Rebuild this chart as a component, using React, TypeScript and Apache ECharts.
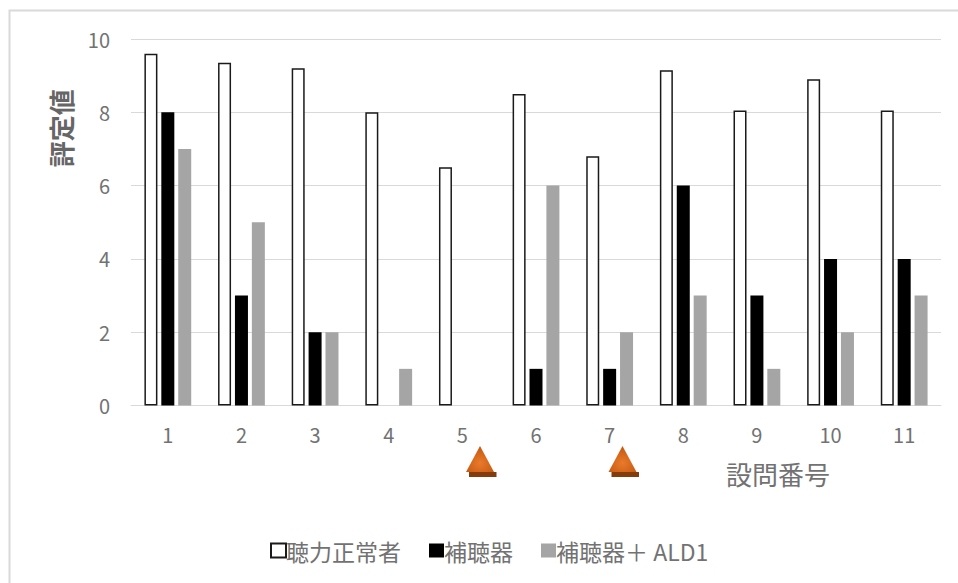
import React, { useEffect, useRef } from "react";
import * as echarts from "echarts";

const categories = ["1", "2", "3", "4", "5", "6", "7", "8", "9", "10", "11"];
const normalHearing = [9.6, 9.35, 9.2, 8, 6.5, 8.5, 6.8, 9.15, 8.05, 8.9, 8.05];
const hearingAid = [8, 3, 2, 0, 0, 1, 1, 6, 3, 4, 4];
const hearingAidAld = [7, 5, 2, 1, 0, 6, 2, 3, 1, 2, 3];

const FONT = '"Noto Sans CJK JP", "Noto Sans", sans-serif';
const TEXT = "#727272";

// Orange marker with a darker slab under its base
const marker = (apexX: number) => [
  {
    type: "polygon",
    shape: { points: [[apexX - 11, 472], [apexX + 16.5, 472], [apexX + 16.5, 477], [apexX - 11, 477]] },
    style: { fill: "#843c0c" },
  },
  {
    type: "polygon",
    shape: { points: [[apexX, 446], [apexX + 14, 472], [apexX - 14, 472]] },
    style: {
      fill: {
        type: "radial",
        x: 0.5,
        y: 0.65,
        r: 0.6,
        colorStops: [
          { offset: 0, color: "#ea7a2c" },
          { offset: 1, color: "#c55a11" },
        ],
      },
    },
  },
];

export default function App() {
  const ref = useRef<HTMLDivElement>(null);

  useEffect(() => {
    document.body.style.margin = "0";
    const chart = echarts.init(ref.current!, null, { renderer: "svg" });
    const bar = { type: "bar", barWidth: 13, barGap: "30%" };
    chart.setOption({
      animation: false,
      backgroundColor: "#ffffff",
      grid: { left: 131, right: 17, top: 39, bottom: 177.5, outerBoundsMode: "none", containLabel: false },
      xAxis: {
        type: "category",
        data: categories,
        axisTick: { show: false },
        axisLine: { lineStyle: { color: "#d9d9d9", width: 1 } },
        axisLabel: { color: TEXT, fontFamily: FONT, fontSize: 20, margin: 19 },
        name: "設問番号",
        nameLocation: "end",
        nameGap: -111,
        nameTextStyle: {
          color: TEXT,
          fontFamily: FONT,
          fontSize: 26,
          align: "right",
          verticalAlign: "top",
          padding: [55, 0, 0, 0],
        },
      },
      yAxis: {
        type: "value",
        min: 0,
        max: 10,
        interval: 2,
        splitLine: { lineStyle: { color: "#d9d9d9", width: 1 } },
        axisLine: { show: false },
        axisTick: { show: false },
        axisLabel: { color: TEXT, fontFamily: FONT, fontSize: 20, margin: 21 },
        name: "評定値",
        nameLocation: "middle",
        nameGap: 58,
        nameRotate: 90,
        nameTextStyle: {
          color: "#666666",
          fontFamily: FONT,
          fontSize: 26,
          fontWeight: "bold",
          padding: [0, 0, 0, 188],
        },
      },
      legend: {
        left: 265,
        top: 534,
        itemWidth: 15,
        itemHeight: 14,
        itemGap: 28,
        icon: "rect",
        textStyle: { color: TEXT, fontFamily: FONT, fontSize: 23, padding: [0, 0, 0, -5] },
        data: ["聴力正常者", "補聴器", "補聴器＋ ALD1"],
      },
      series: [
        {
          ...bar,
          name: "聴力正常者",
          data: normalHearing,
          itemStyle: { color: "#ffffff", borderColor: "#1a1a1a", borderWidth: 1.5 },
        },
        { ...bar, name: "補聴器", data: hearingAid, itemStyle: { color: "#000000" } },
        { ...bar, name: "補聴器＋ ALD1", data: hearingAidAld, itemStyle: { color: "#a5a5a5" } },
      ],
      graphic: [
        {
          type: "polyline",
          silent: true,
          shape: { points: [[9.5, 583], [9.5, 10.5], [958, 10.5]] },
          style: { fill: "none", stroke: "#d9d9d9", lineWidth: 2 },
        },
        ...marker(480),
        ...marker(622.5),
      ],
    });
    return () => chart.dispose();
  }, []);

  return <div ref={ref} style={{ width: 958, height: 583 }} />;
}
